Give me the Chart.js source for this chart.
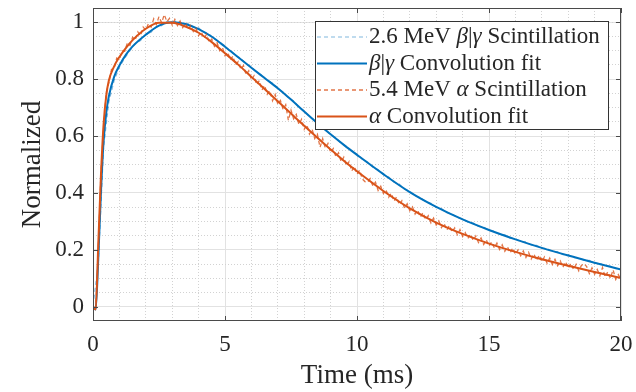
<!DOCTYPE html>
<html>
<head>
<meta charset="utf-8">
<title>Scintillation pulse shapes</title>
<script src="https://cdn.jsdelivr.net/npm/chart.js@4.4.1/dist/chart.umd.min.js"></script>
<style>
  html, body { margin: 0; padding: 0; background: #fff; }
  #wrap { width: 636px; height: 392px; }
</style>
</head>
<body>
<div id="wrap"><canvas id="pulseChart" width="636" height="392"></canvas></div>
<script>
// fit curves, sampled in ms
const fitTime = [0, 0.1, 0.2, 0.3, 0.4, 0.5, 0.6, 0.8, 1, 1.25, 1.5,
    2, 2.5, 3, 3.5, 4, 4.5, 5, 5.5, 6, 6.5, 7, 7.5, 8, 8.5, 9, 9.5, 10,
    11, 12, 13, 14, 15, 16, 17, 18, 19, 20];
const betaFit = [0, -0.01, 0.17, 0.40, 0.58, 0.68, 0.74, 0.808, 0.848, 0.886, 0.915,
    0.956, 0.988, 1.0, 0.994, 0.976, 0.949, 0.914, 0.877, 0.84, 0.804, 0.768, 0.728, 0.686, 0.645, 0.606, 0.569, 0.534,
    0.466, 0.403, 0.351, 0.307, 0.27, 0.237, 0.207, 0.18, 0.155, 0.131];
const alphaFit = [0, -0.01, 0.22, 0.46, 0.64, 0.74, 0.795, 0.845, 0.878, 0.91, 0.937,
    0.977, 0.998, 0.998, 0.985, 0.963, 0.93, 0.891, 0.851, 0.808, 0.765, 0.722, 0.679, 0.636, 0.594, 0.553, 0.513, 0.476,
    0.407, 0.346, 0.296, 0.256, 0.222, 0.193, 0.167, 0.144, 0.122, 0.101];

// measured pulses (beta/gamma every 0.2 ms, alpha every 0.1 ms, from t = 0)
const betaStep = 0.2;
const betaScint = [0.004,
    0.15, 0.56, 0.72, 0.795, 0.842, 0.874, 0.9, 0.925, 0.936, 0.958,
    0.965, 0.984, 0.988, 1.003, 0.997, 1.006, 0.993, 0.995, 0.982, 0.98,
    0.964, 0.959, 0.94, 0.932, 0.911, 0.902, 0.883, 0.873, 0.853, 0.843,
    0.824, 0.814, 0.795, 0.786, 0.766, 0.755, 0.734, 0.723, 0.701, 0.689,
    0.668, 0.656, 0.635, 0.624, 0.604, 0.594, 0.574, 0.565, 0.546, 0.537,
    0.518, 0.509, 0.49, 0.482, 0.464, 0.456, 0.438, 0.431, 0.413, 0.406,
    0.39, 0.384, 0.369, 0.364, 0.349, 0.345, 0.331, 0.327, 0.313, 0.31,
    0.297, 0.295, 0.282, 0.28, 0.268, 0.266, 0.254, 0.253, 0.241, 0.24,
    0.229, 0.228, 0.217, 0.216, 0.205, 0.205, 0.194, 0.194, 0.183, 0.183,
    0.173, 0.173, 0.163, 0.163, 0.153, 0.153, 0.143, 0.143, 0.134, 0.135];
const alphaStep = 0.1;
const alphaScint = [0.003,
    -0.014, 0.2, 0.47, 0.628, 0.752, 0.788, 0.834, 0.838, 0.874, 0.869,
    0.899, 0.898, 0.927, 0.919, 0.947, 0.938, 0.966, 0.952, 0.983, 0.972,
    0.995, 0.983, 1.012, 0.992, 1.02, 0.998, 1.027, 1.002, 1.014, 0.99,
    1.01, 0.988, 1.004, 0.981, 0.996, 0.974, 0.988, 0.967, 0.978, 0.953,
    0.967, 0.943, 0.957, 0.93, 0.941, 0.915, 0.928, 0.9, 0.912, 0.883,
    0.895, 0.867, 0.881, 0.85, 0.862, 0.835, 0.848, 0.815, 0.829, 0.797,
    0.812, 0.78, 0.795, 0.762, 0.778, 0.747, 0.76, 0.724, 0.746, 0.712,
    0.725, 0.694, 0.71, 0.655, 0.691, 0.66, 0.676, 0.64, 0.659, 0.624,
    0.64, 0.607, 0.624, 0.591, 0.606, 0.56, 0.591, 0.558, 0.574, 0.542,
    0.556, 0.527, 0.541, 0.509, 0.526, 0.495, 0.51, 0.477, 0.494, 0.466,
    0.48, 0.449, 0.44, 0.437, 0.45, 0.425, 0.438, 0.409, 0.424, 0.398,
    0.41, 0.385, 0.399, 0.371, 0.386, 0.359, 0.373, 0.347, 0.362, 0.337,
    0.351, 0.326, 0.34, 0.315, 0.331, 0.306, 0.32, 0.295, 0.312, 0.287,
    0.302, 0.278, 0.293, 0.269, 0.286, 0.262, 0.277, 0.253, 0.271, 0.247,
    0.261, 0.24, 0.255, 0.233, 0.249, 0.226, 0.242, 0.219, 0.235, 0.213,
    0.228, 0.207, 0.224, 0.201, 0.218, 0.195, 0.211, 0.189, 0.207, 0.184,
    0.2, 0.179, 0.196, 0.173, 0.191, 0.168, 0.186, 0.163, 0.182, 0.158,
    0.175, 0.153, 0.171, 0.148, 0.167, 0.144, 0.161, 0.139, 0.158, 0.135,
    0.153, 0.131, 0.149, 0.126, 0.145, 0.152, 0.141, 0.117, 0.137, 0.114,
    0.131, 0.109, 0.138, 0.104, 0.123, 0.1, 0.13, 0.096, 0.113, 0.094];

const xTicks = [0, 5, 10, 15, 20];
const yTicks = [0, 0.2, 0.4, 0.6, 0.8, 1];
const xMinorTicks = [1, 2, 3, 4, 6, 7, 8, 9, 11, 12, 13, 14, 16, 17, 18, 19];
const yMinorTicks = [0.05, 0.1, 0.15, 0.25, 0.3, 0.35, 0.45, 0.5, 0.55, 0.65, 0.7, 0.75, 0.85, 0.9, 0.95, 1.0];
const legendLabels = ['2.6 MeV β|γ Scintillation', 'β|γ Convolution fit',
    '5.4 MeV α Scintillation', 'α Convolution fit'];

const BLUE = '#0072BD';
const ORANGE = '#D95319';
const SERIF = '"Liberation Serif", "Times New Roman", serif';
const INK = '#262626';

const toPoints = (xs, ys) => ys.map((y, i) => ({ x: xs[i], y: y }));
const sampled = (ys, dt) => ys.map((y, i) => ({ x: +(i * dt).toFixed(2), y: y }));

// box, inward ticks on all four sides, and the legend inside the axes
const framePlugin = {
    id: 'frame',
    afterDraw(chart) {
        const { ctx, chartArea: a, scales } = chart;
        ctx.save();
        ctx.strokeStyle = '#4a4a4a';
        ctx.lineWidth = 1;
        ctx.setLineDash([]);
        ctx.strokeRect(a.left + 0.5, a.top + 0.5, a.right - a.left - 1, a.bottom - a.top - 1);
        ctx.beginPath();
        xTicks.forEach(v => {
            const px = Math.round(scales.x.getPixelForValue(v)) + 0.5;
            ctx.moveTo(px, a.bottom); ctx.lineTo(px, a.bottom - 5);
            ctx.moveTo(px, a.top); ctx.lineTo(px, a.top + 5);
        });
        yTicks.forEach(v => {
            const py = Math.round(scales.y.getPixelForValue(v)) + 0.5;
            ctx.moveTo(a.left, py); ctx.lineTo(a.left + 5, py);
            ctx.moveTo(a.right, py); ctx.lineTo(a.right - 5, py);
        });
        ctx.stroke();

        // legend
        const box = { left: 315, top: 21, width: 293, height: 108 };
        ctx.fillStyle = '#fff';
        ctx.fillRect(box.left, box.top, box.width, box.height);
        ctx.strokeStyle = '#333';
        ctx.strokeRect(box.left + 0.5, box.top + 0.5, box.width, box.height);
        chart.data.datasets.forEach((ds, i) => {
            const y = 37 + i * 26.5;
            ctx.beginPath();
            ctx.strokeStyle = ds.borderColor;
            ctx.lineWidth = ds.borderWidth;
            ctx.setLineDash(ds.borderDash || []);
            ctx.moveTo(317, y);
            ctx.lineTo(367, y);
            ctx.stroke();
            ctx.setLineDash([]);
            drawLabel(ctx, ds.label, 369, y);
        });
        ctx.restore();
    }
};

// Greek symbols are set in italic, the rest upright
function drawLabel(ctx, text, x, y) {
    ctx.fillStyle = INK;
    ctx.textBaseline = 'middle';
    ctx.textAlign = 'left';
    text.split(/([αβγ])/).forEach(part => {
        if (!part) return;
        ctx.font = (/[αβγ]/.test(part) ? 'italic ' : '') + '23px ' + SERIF;
        ctx.fillText(part, x, y);
        x += ctx.measureText(part).width;
    });
}

const ctx = document.getElementById('pulseChart').getContext('2d');
const pulseChart = new Chart(ctx, {
    type: 'line',
    data: {
        datasets: [{
            label: legendLabels[0],
            data: sampled(betaScint, betaStep),
            borderColor: 'rgba(0, 114, 189, 0.5)',
            borderWidth: 1.2,
            borderDash: [4, 3],
            order: 4
        }, {
            label: legendLabels[1],
            data: toPoints(fitTime, betaFit),
            borderColor: BLUE,
            borderWidth: 2,
            cubicInterpolationMode: 'monotone',
            order: 3
        }, {
            label: legendLabels[2],
            data: sampled(alphaScint, alphaStep),
            borderColor: 'rgba(217, 83, 25, 0.8)',
            borderWidth: 1.3,
            borderDash: [4, 3],
            order: 2
        }, {
            label: legendLabels[3],
            data: toPoints(fitTime, alphaFit),
            borderColor: ORANGE,
            borderWidth: 2,
            cubicInterpolationMode: 'monotone',
            order: 1
        }].map(ds => Object.assign(ds, { xAxisID: 'x', yAxisID: 'y', pointRadius: 0, fill: false }))
    },
    options: {
        responsive: false,
        animation: false,
        devicePixelRatio: 1,
        layout: { padding: { left: 0, top: 8, right: 15, bottom: 0 } },
        plugins: {
            legend: { display: false },
            tooltip: { enabled: false }
        },
        scales: {
            x: {
                type: 'linear', axis: 'x', position: 'bottom', min: 0, max: 20,
                afterBuildTicks: s => { s.ticks = xTicks.map(v => ({ value: v })); },
                afterFit: s => { s.height = 71; s.paddingLeft = 0; s.paddingRight = 0; },
                ticks: { color: INK, font: { family: SERIF, size: 23 }, padding: 10, autoSkip: false, maxRotation: 0,
                    callback: v => String(v) },
                grid: { color: '#e2e2e2', drawTicks: false },
                border: { display: false },
                title: { display: true, text: 'Time (ms)', color: INK, font: { family: SERIF, size: 27 }, padding: { top: 0, bottom: 0 } }
            },
            xMinor: {
                type: 'linear', axis: 'x', position: 'bottom', min: 0, max: 20,
                afterBuildTicks: s => { s.ticks = xMinorTicks.map(v => ({ value: v })); },
                afterFit: s => { s.height = 0; s.paddingLeft = 0; s.paddingRight = 0; },
                ticks: { display: false },
                grid: { color: '#d2d2d2', drawTicks: false },
                border: { display: false, dash: [1, 2] }
            },
            y: {
                type: 'linear', axis: 'y', position: 'left', min: -0.05, max: 1.05,
                afterBuildTicks: s => { s.ticks = yTicks.map(v => ({ value: v })); },
                afterFit: s => { s.width = 93; s.paddingTop = 0; s.paddingBottom = 0; },
                ticks: { color: INK, font: { family: SERIF, size: 23 }, padding: 9, callback: v => String(v) },
                grid: { color: '#e2e2e2', drawTicks: false },
                border: { display: false },
                title: { display: true, text: 'Normalized', color: INK, font: { family: SERIF, size: 27 }, padding: { top: 17, bottom: 0 } }
            },
            yMinor: {
                type: 'linear', axis: 'y', position: 'left', min: -0.05, max: 1.05,
                afterBuildTicks: s => { s.ticks = yMinorTicks.map(v => ({ value: v })); },
                afterFit: s => { s.width = 0; s.paddingTop = 0; s.paddingBottom = 0; },
                ticks: { display: false },
                grid: { color: '#d2d2d2', drawTicks: false },
                border: { display: false, dash: [1, 2] }
            }
        }
    },
    plugins: [framePlugin]
});
</script>
</body>
</html>
